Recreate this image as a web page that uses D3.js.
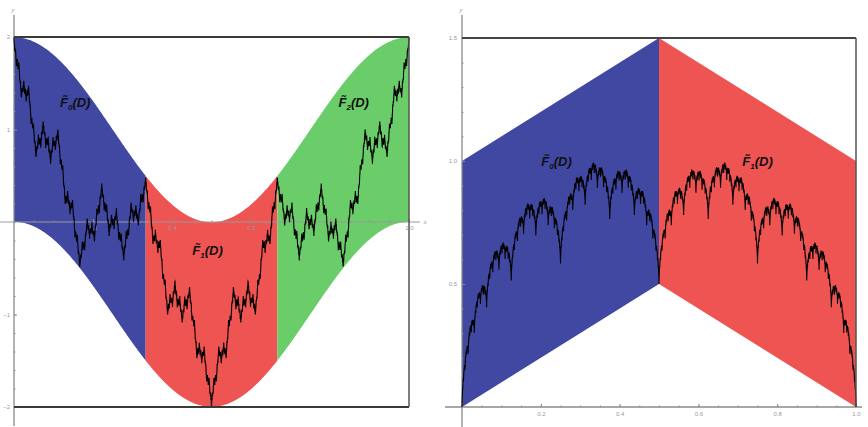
<!DOCTYPE html>
<html lang="en">
<head>
<meta charset="UTF-8"/>
<title>Fractal interpolation pieces</title>
<script src="https://d3js.org/d3.v7.min.js"></script>
<style>
    body { margin: 0; background: #fff; }
    svg { display: block; }
    .tick text { font-family: "Liberation Sans", Arial, sans-serif; font-size: 6px; fill: #9a9a9a; }
    .tick line { stroke: #8a8a8a; }
    .domain { display: none; }
    .piece-label { font-family: "Liberation Sans", Arial, sans-serif; font-weight: bold; font-style: italic; font-size: 13px; fill: #111; }
    .axis-name { font-family: "Liberation Serif", serif; font-style: italic; font-size: 7px; fill: #9a9a9a; }
</style>
</head>
<body>
<script>
    // ---- data ----
    // left plot: W(x) = sum a^n cos(2 pi b^n x), pieces over thirds
    var leftAmpRatio = 0.5;
    var leftFreqRatio = 3;
    var leftTerms = 10;
    var leftPieceNames = ["0", "1", "2"];
    var leftPieceStarts = [0, 1/3, 2/3];
    var leftPieceEnds = [1/3, 2/3, 1];
    var leftXTicks = [0.2, 0.4, 0.6, 0.8, 1.0];
    var leftYTicks = [-2, -1, 1, 2];

    // right plot: Takagi–Landsberg curve, weight w, pieces over halves
    var rightWeight = 2/3;
    var rightTerms = 22;
    var rightPieceNames = ["0", "1"];
    var rightLowerEdges = [[[0, 0], [0.5, 0.5]], [[0.5, 0.5], [1, 0]]];
    var rightUpperEdges = [[[0, 1], [0.5, 1.5]], [[0.5, 1.5], [1, 1]]];
    var rightXTicks = [0.2, 0.4, 0.6, 0.8, 1.0];
    var rightYTicks = [0.5, 1.0, 1.5];

    var pieceColors = ["#4048a2", "#ee5451", "#6bcd6a"];

    var W = 868, H = 427;
    var svg = d3.select("body").append("svg").attr("width", W).attr("height", H);

    // ---------- left plot ----------
    var xL = d3.scaleLinear().domain([0, 1]).range([14, 409]);
    var yL = d3.scaleLinear().domain([-2, 2]).range([407, 37]);
    var gL = svg.append("g");

    function weier(x) {
        var s = 0;
        for (var n = 0; n < leftTerms; n++) {
            s += Math.pow(leftAmpRatio, n) * Math.cos(2 * Math.PI * Math.pow(leftFreqRatio, n) * x);
        }
        return s;
    }
    // band around first term: first term +/- sum of the rest
    var rest = d3.sum(d3.range(1, leftTerms), function(n) { return Math.pow(leftAmpRatio, n); });

    leftPieceStarts.forEach(function(x0, i) {
        var xs = d3.range(0, 201).map(function(k) { return x0 + (leftPieceEnds[i] - x0) * k / 200; });
        var area = d3.area()
            .x(function(d) { return xL(d); })
            .y0(function(d) { return yL(Math.cos(2 * Math.PI * d) - rest); })
            .y1(function(d) { return yL(Math.cos(2 * Math.PI * d) + rest); });
        gL.append("path").attr("d", area(xs)).attr("fill", pieceColors[i]);
    });

    // axes
    gL.append("line").attr("x1", 0).attr("x2", 420).attr("y1", yL(0)).attr("y2", yL(0))
        .attr("stroke", "#9a9a9a").attr("stroke-width", 1);
    gL.append("line").attr("x1", xL(0)).attr("x2", xL(0)).attr("y1", 15).attr("y2", 426)
        .attr("stroke", "#8a8a8a").attr("stroke-width", 1.3);

    gL.append("g").attr("transform", "translate(0," + yL(0) + ")")
        .call(d3.axisBottom(xL).tickValues(leftXTicks).tickSize(-3).tickPadding(4).tickFormat(d3.format(".1f")));
    gL.append("g").attr("transform", "translate(0," + yL(0) + ")")
        .call(d3.axisBottom(xL).tickValues(d3.range(0.05, 1.0001, 0.05)).tickSize(-1.5).tickFormat(""));
    gL.append("g").attr("transform", "translate(" + xL(0) + ",0)")
        .call(d3.axisLeft(yL).tickValues(leftYTicks).tickSize(-3).tickPadding(4).tickFormat(d3.format("d")));
    gL.append("g").attr("transform", "translate(" + xL(0) + ",0)")
        .call(d3.axisLeft(yL).tickValues(d3.range(-2, 2.001, 0.2)).tickSize(-1.5).tickFormat(""));

    // curve
    var nL = 4000;
    var ptsL = d3.range(0, nL + 1).map(function(k) { var x = k / nL; return [x, weier(x)]; });
    gL.append("path")
        .attr("d", d3.line().x(function(d) { return xL(d[0]); }).y(function(d) { return yL(d[1]); })(ptsL))
        .attr("fill", "none").attr("stroke", "#000").attr("stroke-width", 1.1);

    // frame
    gL.append("line").attr("x1", xL(0)).attr("x2", xL(1)).attr("y1", yL(2)).attr("y2", yL(2))
        .attr("stroke", "#3a3a3a").attr("stroke-width", 2);
    gL.append("line").attr("x1", xL(0)).attr("x2", xL(1)).attr("y1", yL(-2)).attr("y2", yL(-2))
        .attr("stroke", "#3a3a3a").attr("stroke-width", 2);
    gL.append("line").attr("x1", xL(1)).attr("x2", xL(1)).attr("y1", yL(2)).attr("y2", yL(-2))
        .attr("stroke", "#555").attr("stroke-width", 1.5);

    gL.append("text").attr("class", "axis-name").attr("x", xL(0) - 1).attr("y", 12).attr("text-anchor", "middle").text("y");
    gL.append("text").attr("class", "axis-name").attr("x", 425).attr("y", yL(0) + 2).attr("text-anchor", "middle").text("x");

    // ---------- right plot ----------
    var xR = d3.scaleLinear().domain([0, 1]).range([462, 856]);
    var yR = d3.scaleLinear().domain([0, 1.5]).range([407, 38]);
    var gR = svg.append("g");

    function tent(t) { var f = t - Math.floor(t); return Math.min(f, 1 - f); }
    function takagi(x) {
        var s = 0;
        for (var n = 0; n < rightTerms; n++) s += Math.pow(rightWeight, n) * tent(Math.pow(2, n) * x);
        return s;
    }

    rightLowerEdges.forEach(function(lo, i) {
        var up = rightUpperEdges[i];
        var poly = [lo[0], lo[1], up[1], up[0]].map(function(p) { return [xR(p[0]), yR(p[1])]; });
        gR.append("path").attr("d", "M" + poly.join("L") + "Z").attr("fill", pieceColors[i]);
    });

    gR.append("line").attr("x1", 445).attr("x2", 862).attr("y1", yR(0)).attr("y2", yR(0))
        .attr("stroke", "#8a8a8a").attr("stroke-width", 1.3);
    gR.append("line").attr("x1", xR(0)).attr("x2", xR(0)).attr("y1", 15).attr("y2", 427)
        .attr("stroke", "#8a8a8a").attr("stroke-width", 1.3);

    gR.append("g").attr("transform", "translate(0," + yR(0) + ")")
        .call(d3.axisBottom(xR).tickValues(rightXTicks).tickSize(-3).tickPadding(5).tickFormat(d3.format(".1f")));
    gR.append("g").attr("transform", "translate(0," + yR(0) + ")")
        .call(d3.axisBottom(xR).tickValues(d3.range(0.05, 1.0001, 0.05)).tickSize(-1.5).tickFormat(""));
    gR.append("g").attr("transform", "translate(" + xR(0) + ",0)")
        .call(d3.axisLeft(yR).tickValues(rightYTicks).tickSize(-3).tickPadding(5).tickFormat(d3.format(".1f")));
    gR.append("g").attr("transform", "translate(" + xR(0) + ",0)")
        .call(d3.axisLeft(yR).tickValues(d3.range(0.1, 1.5001, 0.1)).tickSize(-1.5).tickFormat(""));

    var nR = 4096;
    var ptsR = d3.range(0, nR + 1).map(function(k) { var x = k / nR; return [x, takagi(x)]; });
    gR.append("path")
        .attr("d", d3.line().x(function(d) { return xR(d[0]); }).y(function(d) { return yR(d[1]); })(ptsR))
        .attr("fill", "none").attr("stroke", "#000").attr("stroke-width", 1.1);

    gR.append("line").attr("x1", xR(0)).attr("x2", xR(1)).attr("y1", yR(1.5)).attr("y2", yR(1.5))
        .attr("stroke", "#444").attr("stroke-width", 1.8);
    gR.append("line").attr("x1", xR(1)).attr("x2", xR(1)).attr("y1", yR(1.5)).attr("y2", yR(0))
        .attr("stroke", "#555").attr("stroke-width", 1.5);

    gR.append("text").attr("class", "axis-name").attr("x", xR(0) - 1).attr("y", 12).attr("text-anchor", "middle").text("y");

    // ---------- piece labels ----------
    function pieceLabel(g, x, y, sub) {
        var t = g.append("text").attr("class", "piece-label").attr("x", x).attr("y", y).attr("text-anchor", "middle");
        t.append("tspan").text("F\u0303");
        t.append("tspan").attr("font-size", "8px").attr("dy", 3).text(sub);
        t.append("tspan").attr("dy", -3).text("(D)");
    }
    var leftLabelPos = [[0.155, 1.24], [0.49, -0.36], [0.86, 1.24]];
    leftPieceNames.forEach(function(s, i) {
        pieceLabel(gL, xL(leftLabelPos[i][0]), yL(leftLabelPos[i][1]), s);
    });
    var rightLabelPos = [[0.24, 0.98], [0.75, 0.98]];
    rightPieceNames.forEach(function(s, i) {
        pieceLabel(gR, xR(rightLabelPos[i][0]), yR(rightLabelPos[i][1]), s);
    });
</script>
</body>
</html>
